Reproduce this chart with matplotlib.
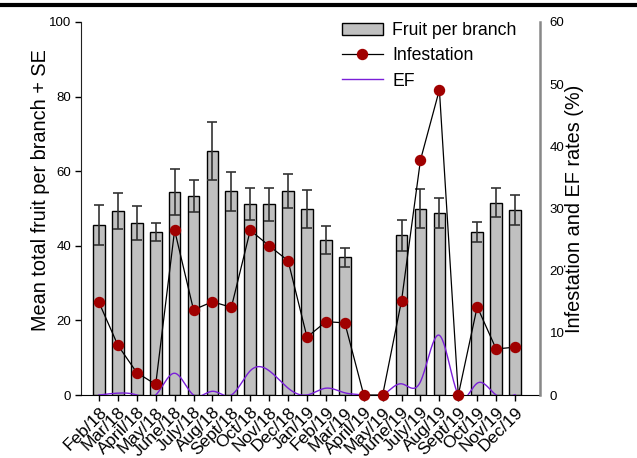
import numpy as np
import matplotlib
matplotlib.use("Agg")
import matplotlib.pyplot as plt
from matplotlib.lines import Line2D

plt.rcParams['font.family'] = ['Liberation Sans', 'DejaVu Sans']

months = ["Feb/18", "Mar/18", "April/18", "May/18", "June/18", "July/18", "Aug/18",
          "Sept/18", "Oct/18", "Nov/18", "Dec/18", "Jan/19", "Feb/19", "Mar/19",
          "April/19", "May/19", "June/19", "July/19", "Aug/19", "Sept/19", "Oct/19",
          "Nov/19", "Dec/19"]

fruit_mean = [45.6, 49.3, 46.2, 43.8, 54.5, 53.3, 65.4, 54.6, 51.2, 51.1, 54.7, 49.9,
              41.6, 36.9, 0, 0, 42.8, 50.0, 48.7, 0, 43.7, 51.5, 49.6]
fruit_se = [5.3, 4.9, 4.6, 2.4, 6.2, 4.3, 7.7, 5.3, 4.4, 4.4, 4.6, 5.1,
            3.7, 2.6, 0, 0, 4.2, 5.2, 4.0, 0, 2.8, 3.9, 4.0]

infestation = [14.9, 8.0, 3.6, 1.7, 26.5, 13.7, 15.0, 14.1, 26.5, 24.0, 21.6, 9.3,
               11.8, 11.6, 0, 0, 15.2, 37.8, 49.1, 0, 14.2, 7.4, 7.7]

ef = [0.0, 0.3, 0.0, 0.0, 3.5, 0.0, 0.6, 0.0, 3.9, 3.9, 1.1, 0.0,
      1.1, 0.35, 0.0, 0.0, 1.8, 2.15, 9.6, 0.0, 1.9, 0.0, 0.05]


def natural_spline(y, samples=40):
    """Natural cubic spline through equally spaced points (unit spacing)."""
    y = np.asarray(y, float)
    n = len(y)
    A = np.zeros((n, n))
    r = np.zeros(n)
    A[0, 0] = A[-1, -1] = 1.0
    for i in range(1, n - 1):
        A[i, i - 1], A[i, i], A[i, i + 1] = 1.0, 4.0, 1.0
        r[i] = 6.0 * (y[i + 1] - 2 * y[i] + y[i - 1])
    M = np.linalg.solve(A, r)
    xs, ys = [], []
    for i in range(n - 1):
        t = np.linspace(0, 1, samples, endpoint=(i == n - 2))
        s = ((1 - t) * y[i] + t * y[i + 1]
             + ((1 - t) ** 3 - (1 - t)) * M[i] / 6.0
             + (t ** 3 - t) * M[i + 1] / 6.0)
        xs.append(i + t)
        ys.append(s)
    return np.concatenate(xs), np.concatenate(ys)


x = np.arange(len(months))

fig = plt.figure(figsize=(6.37, 4.58), dpi=100)
ax = fig.add_axes([81 / 637, 1 - 395 / 458, (540 - 81) / 637, (395 - 22) / 458])

bars = ax.bar(x, fruit_mean, width=0.62, color="#c0c0c0", edgecolor="black",
              linewidth=1.0, label="Fruit per branch", zorder=2)
ax.errorbar(x, fruit_mean, yerr=fruit_se, fmt="none", ecolor="#333333",
            elinewidth=1.2, capsize=3.6, capthick=1.2, zorder=3)

ax.set_xlim(-0.95, 23.32)
ax.set_ylim(0, 100)
ax.set_yticks([0, 20, 40, 60, 80, 100])
ax.set_xticks(x)
ax.set_xticklabels(months, rotation=45, ha="right", rotation_mode="anchor",
                   fontsize=12.5)
ax.tick_params(axis="y", labelsize=9.5, length=4, width=1, direction="out", pad=3)
ax.tick_params(axis="x", length=4, width=1, direction="out", pad=3)
ax.set_ylabel("Mean total fruit per branch + SE", fontsize=14.3)
ax.yaxis.set_label_coords(-0.068, 0.55)
for side in ("top", "right"):
    ax.spines[side].set_visible(False)
ax.spines["left"].set_color("#222222")
ax.spines["bottom"].set_color("black")

ax2 = ax.twinx()
ax2.set_ylim(0, 60)
ax2.set_yticks([0, 10, 20, 30, 40, 50, 60])
ax2.tick_params(axis="y", labelsize=9.5, length=0, pad=7)
for side in ("top", "left", "bottom"):
    ax2.spines[side].set_visible(False)
ax2.spines["right"].set_color("#888888")
ax2.spines["right"].set_linewidth(1.8)
ax2.set_ylabel("Infestation and EF rates (%)", fontsize=14.3, labelpad=0)

ex, ey = natural_spline(ef)
ef_line, = ax2.plot(ex, ey, color="#7a1fd8", linewidth=1.0, label="EF", zorder=3)
inf_line, = ax2.plot(x, infestation, color="black", linewidth=0.9, marker="o",
                     markersize=7.2, markerfacecolor="#a00000",
                     markeredgecolor="#a00000", label="Infestation",
                     clip_on=False, zorder=4)

leg = fig.legend([bars, inf_line, ef_line], ["Fruit per branch", "Infestation", "EF"],
                 loc="upper left", bbox_to_anchor=(342 / 637, 1 - 22 / 458),
                 frameon=False, fontsize=12.7, handlelength=2.3,
                 handletextpad=0.55, labelspacing=0.47, borderpad=0,
                 borderaxespad=0)

# heavy rule across the top of the figure
fig.add_artist(Line2D([0, 1], [1 - 5 / 458, 1 - 5 / 458], transform=fig.transFigure,
                      color="black", linewidth=3))

fig.savefig("out.png", dpi=100)
